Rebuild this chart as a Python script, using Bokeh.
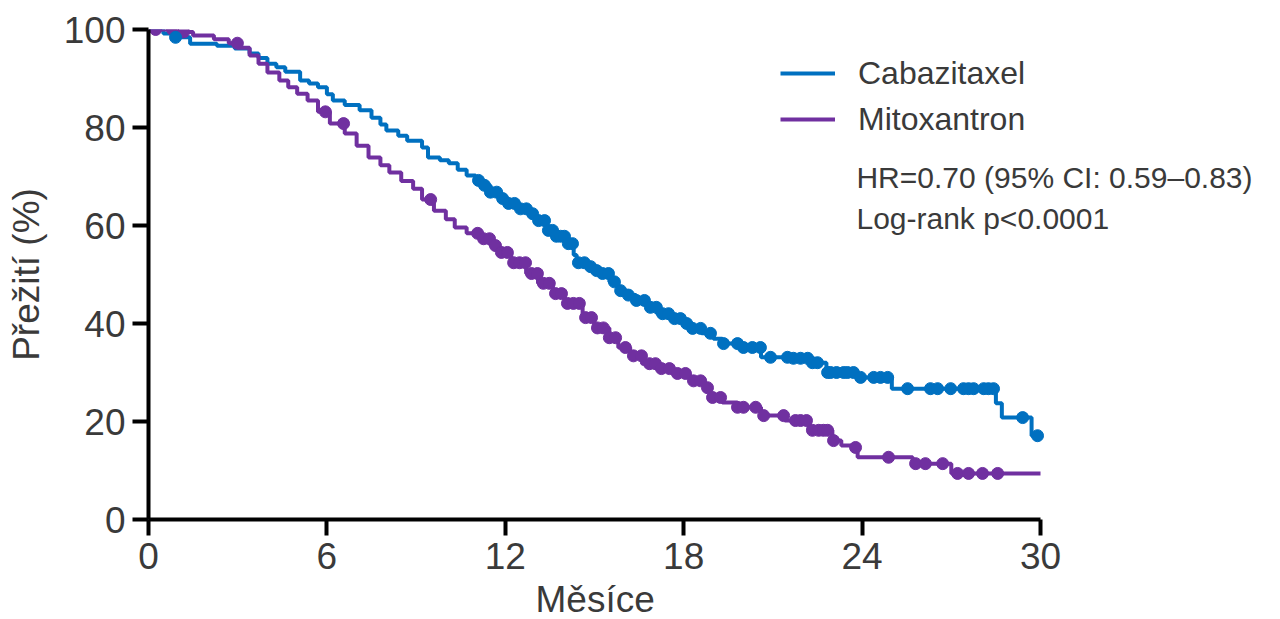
import numpy as np
from bokeh.plotting import figure
from bokeh.models import Legend, LegendItem, Label, FixedTicker, Title
from bokeh.embed import file_html
from bokeh.resources import INLINE

# --- data ---
series_names = ["Cabazitaxel", "Mitoxantron"]

cab_t = [0.0, 0.5, 0.85, 1.4, 2.3, 2.9, 3.4, 3.7, 4.0, 4.3, 4.6, 5.1, 5.4, 5.7, 6.0, 6.2, 6.6, 7.1, 7.5, 7.8,
         8.0, 8.4, 8.7, 9.2, 9.4, 9.8, 10.1, 10.4, 10.7, 11.0, 11.2, 11.5, 11.8, 12.1, 12.4, 12.75, 13.0, 13.4,
         13.7, 14.1, 14.3, 14.4, 14.7, 15.0, 15.2, 15.5, 15.8, 16.1, 16.4, 16.8, 17.1, 17.6, 18.0, 18.3, 18.6,
         19.0, 19.3, 20.0, 20.6, 21.6, 22.3, 22.8, 23.8, 25.0, 28.5, 28.7, 29.7, 29.9]
cab_s = [100, 99.2, 98.4, 97.1, 96.7, 96.1, 95.1, 94.2, 93.0, 92.3, 91.4, 89.6, 89.0, 88.2, 86.8, 85.5, 84.6,
         83.5, 82.0, 80.6, 79.4, 78.3, 77.3, 75.9, 73.9, 73.3, 72.7, 71.4, 70.2, 69.2, 68.2, 66.8, 65.5, 64.5,
         63.4, 62.4, 61.0, 59.0, 57.8, 56.3, 54.0, 52.4, 51.6, 50.8, 50.2, 48.5, 46.7, 45.8, 44.7, 43.3, 42.0,
         41.0, 40.0, 39.0, 38.0, 36.9, 35.9, 35.1, 33.1, 32.9, 32.0, 30.0, 29.0, 26.7, 23.7, 20.8, 17.1, 17.1]
cab_censor = [0.91, 11.10, 11.30, 11.50, 11.71, 11.91, 12.11, 12.31, 12.51, 12.71, 12.92, 13.12, 13.32, 13.45,
              13.59, 13.72, 13.86, 13.99, 14.12, 14.26, 14.46, 14.66, 14.87, 15.07, 15.27, 15.47, 15.67, 15.88,
              16.14, 16.41, 16.68, 16.88, 17.08, 17.29, 17.49, 17.69, 17.89, 18.10, 18.30, 18.57, 18.90, 19.34,
              19.81, 20.01, 20.31, 20.58, 20.92, 21.49, 21.69, 21.93, 22.17, 22.33, 22.50, 22.84, 22.94, 23.14,
              23.38, 23.51, 23.71, 23.95, 24.39, 24.62, 24.86, 25.53, 26.30, 26.54, 26.98, 27.41, 27.58, 27.75,
              28.09, 28.25, 28.42, 29.40, 29.90]

mit_t = [0.0, 0.9, 1.5, 2.2, 2.7, 3.0, 3.4, 3.7, 4.0, 4.4, 4.7, 5.0, 5.35, 5.7, 6.1, 6.6, 7.0, 7.4, 7.8, 8.1,
         8.5, 8.9, 9.2, 9.6, 10.0, 10.3, 10.7, 11.2, 11.5, 11.8, 12.2, 12.7, 13.1, 13.6, 14.0, 14.6, 15.0, 15.5,
         15.8, 16.2, 16.6, 17.1, 17.6, 18.2, 18.7, 18.9, 19.3, 19.8, 20.6, 21.4, 22.2, 23.0, 23.3, 23.7, 23.85,
         25.7, 27.0, 30.0]
mit_s = [100, 99.5, 98.8, 98.0, 97.2, 96.3, 94.7, 93.0, 91.2, 89.6, 88.2, 86.9, 85.5, 83.2, 80.8, 78.8, 76.3,
         73.9, 72.3, 70.8, 69.1, 67.5, 65.3, 63.0, 61.3, 59.6, 58.4, 57.3, 55.9, 54.5, 52.4, 50.2, 48.2, 46.1,
         44.1, 41.2, 39.1, 37.1, 35.1, 33.4, 31.8, 30.8, 29.8, 28.3, 26.9, 24.9, 23.9, 22.9, 21.2, 20.2, 18.2,
         16.1, 15.1, 14.7, 12.7, 11.4, 9.4, 9.4]
mit_censor = [0.24, 0.81, 1.18, 2.99, 5.95, 6.56, 9.49, 11.07, 11.27, 11.47, 11.67, 11.87, 12.07, 12.28, 12.48,
              12.68, 12.88, 13.08, 13.28, 13.48, 13.69, 13.89, 14.09, 14.29, 14.49, 14.70, 14.90, 15.10, 15.30,
              15.50, 15.71, 16.04, 16.31, 16.58, 16.85, 17.05, 17.25, 17.52, 17.79, 18.06, 18.33, 18.57, 18.80,
              18.97, 19.24, 19.81, 20.01, 20.42, 20.69, 21.36, 21.76, 21.93, 22.13, 22.33, 22.54, 22.70, 22.84,
              23.04, 23.78, 24.89, 25.80, 26.13, 26.71, 27.21, 27.58, 28.05, 28.56]

x_ticks = [0, 6, 12, 18, 24, 30]
y_ticks = [0, 20, 40, 60, 80, 100]
x_label = "M\u011bs\u00edce"
y_label = "P\u0159e\u017eit\u00ed (%)"
stats_lines = ["HR=0.70 (95% CI: 0.59\u20130.83)", "Log-rank p<0.0001"]

BLUE = "#0070C0"
PURPLE = "#7030A0"
TXT = "#3a3a3a"
FONT = "Liberation Sans"


def censor_y(times, t_steps, s_steps):
    idx = np.searchsorted(np.array(t_steps), np.array(times), side="right") - 1
    return list(np.array(s_steps)[idx])


# frame extends to the right so the annotation text is not clipped; the x axis is bounded to 0..30
p = figure(frame_width=1122, frame_height=490, x_range=(0, 30 * 1122 / 892), y_range=(0, 100),
           output_backend="svg", toolbar_location=None,
           min_border_left=148, min_border_right=10, min_border_top=29, min_border_bottom=0)
p.outline_line_color = None
p.grid.visible = False
p.background_fill_color = "white"
p.border_fill_color = "white"

r_cab = p.step(x=cab_t, y=cab_s, mode="after", line_width=4, line_color=BLUE)
r_mit = p.step(x=mit_t, y=mit_s, mode="after", line_width=4, line_color=PURPLE)
p.scatter(x=mit_censor, y=censor_y(mit_censor, mit_t, mit_s), size=12, fill_color=PURPLE, line_color=PURPLE)
p.scatter(x=cab_censor, y=censor_y(cab_censor, cab_t, cab_s), size=12, fill_color=BLUE, line_color=BLUE)

for ax in (p.xaxis[0], p.yaxis[0]):
    ax.axis_line_width = 4
    ax.axis_line_color = "black"
    ax.major_tick_line_width = 4
    ax.major_tick_line_color = "black"
    ax.major_tick_in = 0
    ax.major_tick_out = 16
    ax.minor_tick_line_color = None
    ax.major_label_text_font = FONT
    ax.major_label_text_font_size = "37px"
    ax.major_label_text_color = TXT
    ax.axis_label_text_font = FONT
    ax.axis_label_text_font_size = "37px"
    ax.axis_label_text_font_style = "normal"
    ax.axis_label_text_color = TXT

p.xaxis.bounds = (0, 30)
p.xaxis.ticker = FixedTicker(ticks=x_ticks)
p.yaxis.ticker = FixedTicker(ticks=y_ticks)
p.yaxis.axis_label = y_label
p.xaxis.major_label_standoff = 7
p.yaxis.major_label_standoff = 7
p.yaxis.axis_label_standoff = 14

# x-axis title centred under the 0..30 part of the axis
p.add_layout(Title(text=x_label, align="left", offset=387, standoff=10,
                   text_font=FONT, text_font_size="37px", text_font_style="normal",
                   text_color=TXT), "below")

legend = Legend(items=[LegendItem(label=series_names[0], renderers=[r_cab]),
                       LegendItem(label=series_names[1], renderers=[r_mit])],
                location=(632, 380), glyph_width=55, glyph_height=40, label_height=40,
                label_standoff=23, spacing=6, padding=0, margin=0,
                border_line_color=None, background_fill_alpha=0,
                label_text_font=FONT, label_text_font_size="32px", label_text_color=TXT)
p.add_layout(legend)

p.add_layout(Label(x=23.81, y=69.8, text=stats_lines[0], text_font=FONT, text_font_size="30px",
                   text_color=TXT, text_baseline="middle"))
p.add_layout(Label(x=23.81, y=61.4, text=stats_lines[1], text_font=FONT, text_font_size="30px",
                   text_color=TXT, text_baseline="middle"))

open("out.html", "w").write(file_html(p, INLINE))
